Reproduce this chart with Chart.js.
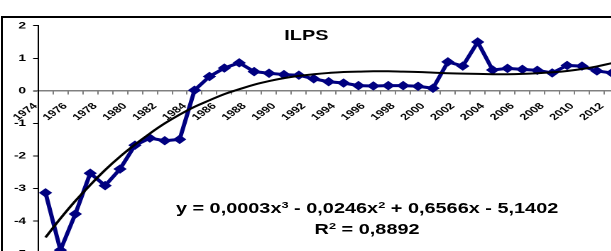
<!DOCTYPE html>
<html lang="en">
<head>
<meta charset="UTF-8">
<title>ILPS</title>
<style>
  html, body { margin: 0; padding: 0; background: #fff; overflow: hidden; }
  body { width: 611px; height: 251px; position: relative; }
  #frame { position: absolute; left: 1px; top: 16px; width: 700px; height: 320px; border: 2px solid #000; box-sizing: border-box; }
  #wrap { position: absolute; left: 0; top: 0; width: 460px; height: 300px; transform: scaleX(1.42); transform-origin: 0 0; }
  #wrap canvas { position: absolute; left: 0; top: 0; }
  .txt { position: absolute; font-family: Arial, "Liberation Sans", sans-serif; font-weight: bold; font-size: 14px; line-height: 14px; white-space: nowrap; transform: translateX(-50%); color: #000; }
  .txt sup { font-size: 9px; line-height: 0; vertical-align: 5px; }
</style>
</head>
<body>
<div id="frame"></div>
<div id="wrap">
  <canvas id="chart" width="460" height="300"></canvas>
  <div class="txt" style="left:215.8px; top:28px">ILPS</div>
  <div class="txt" style="left:258.5px; top:201px">y = 0,0003x<sup>3</sup> - 0,0246x<sup>2</sup> + 0,6566x - 5,1402</div>
  <div class="txt" style="left:258.5px; top:221.5px">R<sup>2</sup> = 0,8892</div>
</div>
<script src="https://cdn.jsdelivr.net/npm/chart.js@4.4.1/dist/chart.umd.min.js"></script>
<script>
// categories (years)
const years = ['1974', '1975', '1976', '1977', '1978', '1979', '1980', '1981', '1982', '1983',
               '1984', '1985', '1986', '1987', '1988', '1989', '1990', '1991', '1992', '1993',
               '1994', '1995', '1996', '1997', '1998', '1999', '2000', '2001', '2002', '2003',
               '2004', '2005', '2006', '2007', '2008', '2009', '2010', '2011', '2012']

// ILPS values
const ilps = [-3.13, -4.89, -3.78, -2.53, -2.91, -2.40, -1.67, -1.45, -1.53, -1.49,
              0.02, 0.44, 0.70, 0.86, 0.59, 0.54, 0.50, 0.48, 0.37, 0.28,
              0.24, 0.16, 0.15, 0.16, 0.16, 0.14, 0.08, 0.89, 0.76, 1.50,
              0.64, 0.69, 0.66, 0.63, 0.55, 0.78, 0.76, 0.61, 0.55]

// polynomial trend line at each year
const trend = [-4.50, -3.92, -3.38, -2.89, -2.43, -2.02, -1.65, -1.31, -1.00, -0.73,
               -0.49, -0.29, -0.10, 0.05, 0.19, 0.30, 0.39, 0.46, 0.51, 0.55,
               0.58, 0.59, 0.60, 0.60, 0.59, 0.58, 0.56, 0.54, 0.53, 0.52,
               0.51, 0.51, 0.52, 0.54, 0.57, 0.61, 0.67, 0.75, 0.85]

// y axis tick range
const yMin = -6
const yMax = 2

const tickFont = size => ({ family: 'Arial, "Liberation Sans", sans-serif', size: size, weight: 'bold' })

new Chart(document.getElementById('chart'), {
    type: 'line',
    data: {
        labels: years,
        datasets: [{
            label: 'trend',
            data: trend,
            borderColor: '#000',
            borderWidth: 2,
            pointRadius: 0,
            tension: 0.4,
            fill: false
        }, {
            label: 'ILPS',
            data: ilps,
            borderColor: '#000080',
            backgroundColor: '#000080',
            borderWidth: 3,
            pointStyle: 'rectRot',
            pointRadius: 4,
            pointBorderWidth: 1,
            tension: 0,
            fill: false
        }]
    },
    options: {
        responsive: false,
        animation: false,
        devicePixelRatio: 2,
        layout: { padding: { left: 0, right: 23.9, top: 25.7, bottom: 13.7 } },
        plugins: { legend: { display: false }, tooltip: { enabled: false } },
        scales: {
            x: {
                position: { y: 0 },
                offset: true,
                grid: { display: true, offset: true, drawOnChartArea: false, drawTicks: true, tickLength: 3, color: '#808080' },
                border: { display: true, color: '#808080', width: 1.5 },
                ticks: {
                    autoSkip: false, maxRotation: 45, minRotation: 45,
                    padding: 7, labelOffset: -7, color: '#000', font: tickFont(9),
                    callback: (v, i) => i % 2 === 0 ? years[i] : ''
                },
                afterFit: s => { s.paddingLeft = 0; s.paddingRight = 0 }
            },
            y: {
                min: yMin, max: yMax,
                ticks: {
                    stepSize: 1, padding: 5, color: '#000', font: tickFont(9.5),
                    callback: v => v === yMin ? '' : v
                },
                grid: { drawOnChartArea: false, tickLength: 3.5, color: '#000' },
                border: { color: '#000', width: 1 },
                afterFit: s => { s.width = 26.8; s.paddingTop = 0; s.paddingBottom = 0 }
            }
        }
    }
})
</script>
</body>
</html>
